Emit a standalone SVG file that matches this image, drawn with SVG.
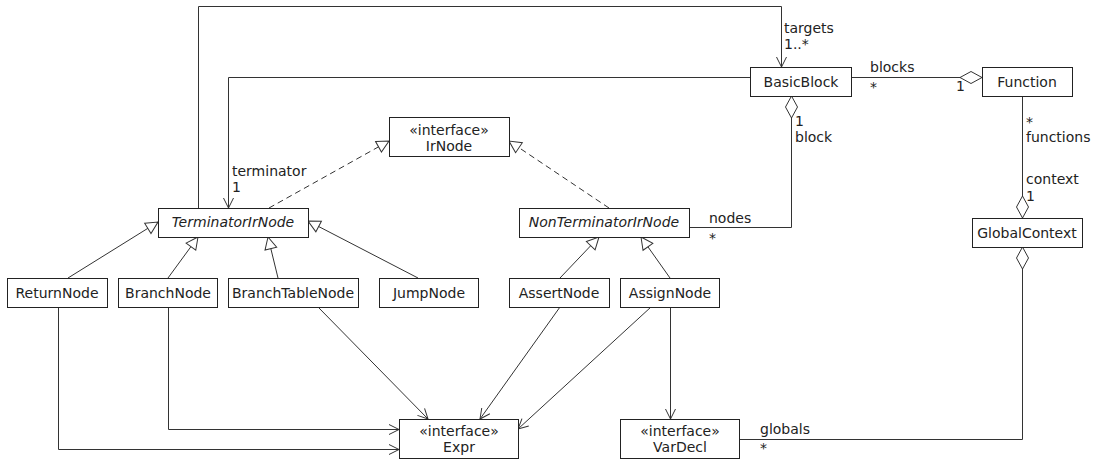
<svg xmlns="http://www.w3.org/2000/svg" width="1099" height="461" viewBox="0 0 1099 461">
  <style>
    .box { fill: #fff; stroke: #222; stroke-width: 1; }
    .t { font-family: "DejaVu Sans", "Liberation Sans", sans-serif; font-size: 14px; fill: #222; }
    .c { text-anchor: middle; }
    .i { font-style: italic; }
    .ln { fill: none; stroke: #333; stroke-width: 1; }
    .dash { stroke-dasharray: 6 4; }
  </style>
  <defs>
    <marker id="open" markerUnits="userSpaceOnUse" markerWidth="12" markerHeight="12" refX="10" refY="5" orient="auto" overflow="visible">
      <path d="M0,0 L10,5 L0,10" fill="none" stroke="#333" stroke-width="1"/>
    </marker>
    <marker id="tri" markerUnits="userSpaceOnUse" markerWidth="14" markerHeight="14" refX="12" refY="6" orient="auto" overflow="visible">
      <path d="M0,0 L12,6 L0,12 Z" fill="#fff" stroke="#333" stroke-width="1"/>
    </marker>
    <marker id="dia" markerUnits="userSpaceOnUse" markerWidth="24" markerHeight="14" refX="0" refY="6" orient="auto" overflow="visible">
      <path d="M0,6 L11,0 L22,6 L11,12 Z" fill="#fff" stroke="#333" stroke-width="1"/>
    </marker>
  </defs>

  <!-- connectors -->
  <g id="connectors">
    <!-- associations -->
    <path class="ln" d="M198.5,208 V6.5 H781.5 V67" marker-end="url(#open)"/>
    <path class="ln" d="M750,77.5 H228.5 V208" marker-end="url(#open)"/>
    <path class="ln" d="M982,77.5 H851" marker-start="url(#dia)"/>
    <path class="ln" d="M791.5,96 V227.5 H689" marker-start="url(#dia)"/>
    <path class="ln" d="M1022.5,218 V96" marker-start="url(#dia)"/>
    <path class="ln" d="M1022.5,247 V439.5 H739" marker-start="url(#dia)"/>
    <!-- realizations -->
    <path class="ln dash" d="M269,208 L389,141" marker-end="url(#tri)"/>
    <path class="ln dash" d="M609,208 L509,141" marker-end="url(#tri)"/>
    <!-- generalizations -->
    <path class="ln" d="M68,278 L158,222" marker-end="url(#tri)"/>
    <path class="ln" d="M168,278 L198,237" marker-end="url(#tri)"/>
    <path class="ln" d="M278,278 L268,237" marker-end="url(#tri)"/>
    <path class="ln" d="M418,278 L308,221" marker-end="url(#tri)"/>
    <path class="ln" d="M560,278 L599,237" marker-end="url(#tri)"/>
    <path class="ln" d="M670,278 L641,237" marker-end="url(#tri)"/>
    <!-- dependencies on Expr / VarDecl -->
    <path class="ln" d="M58.5,307 V449.5 H399" marker-end="url(#open)"/>
    <path class="ln" d="M168.5,307 V429.5 H399" marker-end="url(#open)"/>
    <path class="ln" d="M318,307 L428,419" marker-end="url(#open)"/>
    <path class="ln" d="M560,307 L480,419" marker-end="url(#open)"/>
    <path class="ln" d="M651,307 L518,429" marker-end="url(#open)"/>
    <path class="ln" d="M670.5,307 V419" marker-end="url(#open)"/>

    <!-- role and multiplicity labels -->
    <text class="t" x="784" y="33">targets</text>
    <text class="t" x="784" y="49">1..*</text>
    <text class="t" x="870" y="72">blocks</text>
    <text class="t" x="870" y="92">*</text>
    <text class="t" x="956" y="91">1</text>
    <text class="t" x="795" y="126">1</text>
    <text class="t" x="795" y="142">block</text>
    <text class="t" x="232" y="176">terminator</text>
    <text class="t" x="232" y="192">1</text>
    <text class="t" x="709" y="223">nodes</text>
    <text class="t" x="709" y="243">*</text>
    <text class="t" x="1026" y="127">*</text>
    <text class="t" x="1026" y="142">functions</text>
    <text class="t" x="1026" y="184">context</text>
    <text class="t" x="1026" y="201">1</text>
    <text class="t" x="760" y="434">globals</text>
    <text class="t" x="760" y="453">*</text>
  </g>

  <!-- classes -->
  <g id="BasicBlock">
    <rect class="box" x="750.5" y="67.5" width="101" height="29"/>
    <text class="t c" x="801" y="87">BasicBlock</text>
  </g>
  <g id="Function">
    <rect class="box" x="982.5" y="67.5" width="90" height="29"/>
    <text class="t c" x="1027" y="87">Function</text>
  </g>
  <g id="GlobalContext">
    <rect class="box" x="972.5" y="218.5" width="110" height="29"/>
    <text class="t c" x="1027" y="238">GlobalContext</text>
  </g>
  <g id="IrNode">
    <rect class="box" x="389.5" y="117.5" width="120" height="39"/>
    <text class="t c" x="449" y="135">«interface»</text>
    <text class="t c" x="449" y="151">IrNode</text>
  </g>
  <g id="TerminatorIrNode">
    <rect class="box" x="158.5" y="208.5" width="150" height="29"/>
    <text class="t c i" x="233" y="227">TerminatorIrNode</text>
  </g>
  <g id="NonTerminatorIrNode">
    <rect class="box" x="519.5" y="208.5" width="170" height="29"/>
    <text class="t c i" x="604" y="227">NonTerminatorIrNode</text>
  </g>
  <g id="ReturnNode">
    <rect class="box" x="7.5" y="278.5" width="100" height="29"/>
    <text class="t c" x="57" y="298">ReturnNode</text>
  </g>
  <g id="BranchNode">
    <rect class="box" x="118.5" y="278.5" width="99" height="29"/>
    <text class="t c" x="168" y="298">BranchNode</text>
  </g>
  <g id="BranchTableNode">
    <rect class="box" x="228.5" y="278.5" width="130" height="29"/>
    <text class="t c" x="293" y="298">BranchTableNode</text>
  </g>
  <g id="JumpNode">
    <rect class="box" x="379.5" y="278.5" width="99" height="29"/>
    <text class="t c" x="429" y="298">JumpNode</text>
  </g>
  <g id="AssertNode">
    <rect class="box" x="509.5" y="278.5" width="100" height="29"/>
    <text class="t c" x="559" y="298">AssertNode</text>
  </g>
  <g id="AssignNode">
    <rect class="box" x="620.5" y="278.5" width="99" height="29"/>
    <text class="t c" x="670" y="298">AssignNode</text>
  </g>
  <g id="Expr">
    <rect class="box" x="399.5" y="419.5" width="119" height="39"/>
    <text class="t c" x="459" y="436">«interface»</text>
    <text class="t c" x="459" y="452">Expr</text>
  </g>
  <g id="VarDecl">
    <rect class="box" x="620.5" y="419.5" width="119" height="39"/>
    <text class="t c" x="680" y="436">«interface»</text>
    <text class="t c" x="680" y="452">VarDecl</text>
  </g>
</svg>
